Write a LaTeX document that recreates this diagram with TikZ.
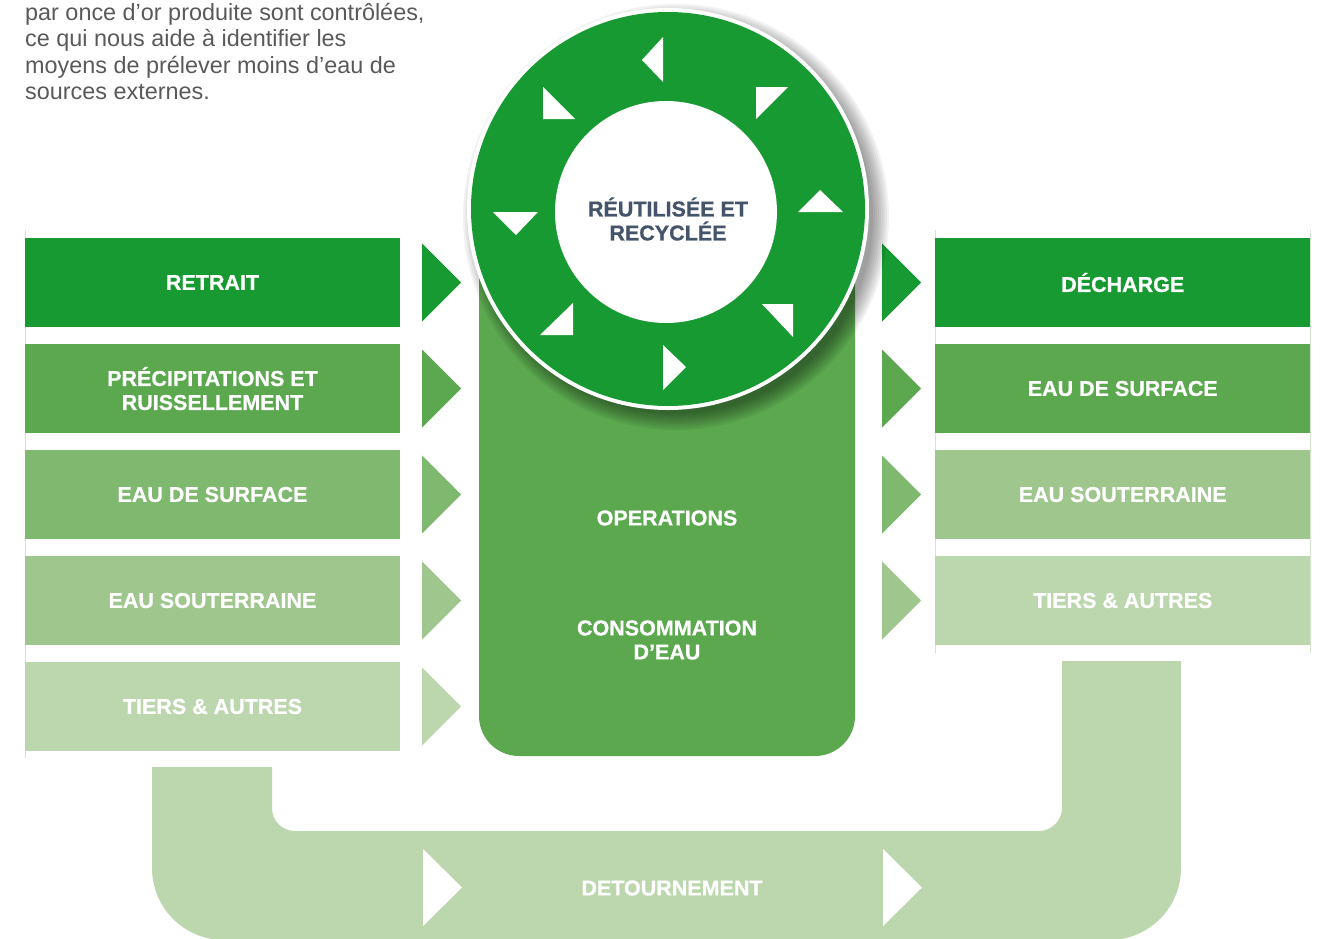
\documentclass[tikz,border=0pt]{standalone}
\usepackage{fontspec}
\setmainfont{Liberation Sans}
\newfontfamily\lblfont{Liberation Sans}[BoldFeatures={FakeBold=0.7}]
\usetikzlibrary{calc}
\definecolor{gA}{HTML}{179A31}
\definecolor{gB}{HTML}{5BA84F}
\definecolor{gC}{HTML}{7FB86F}
\definecolor{gD}{HTML}{9FC68C}
\definecolor{gE}{HTML}{BCD7AD}
\definecolor{slate}{HTML}{44546A}
\definecolor{paragray}{HTML}{595959}
\definecolor{hair}{HTML}{D3E6CB}
\begin{document}
\begin{tikzpicture}[x=1pt,y=-1pt,
  lbl/.style={text=white, font=\lblfont\bfseries\fontsize{21.5}{24}\selectfont, align=center, inner sep=0pt},
  rowbox/.style={lbl, minimum width=375, minimum height=89},
  para/.style={text=paragray, font=\fontsize{23.4}{26}\selectfont, inner sep=0pt, anchor=base west},
  hairline/.style={draw=hair, line width=0.8pt},
  ringtri/.style={fill=white}]
\useasboundingbox (0,0) rectangle (1326,938);
\clip (0,0) rectangle (1326,938);

% paragraph
\node[para] (p1) at (25,20.5) {par once d’or produite sont contrôlées,};
\node[para] (p2) at (25,46.8) {ce qui nous aide à identifier les};
\node[para] (p3) at (25,73.1) {moyens de prélever moins d’eau de};
\node[para] (p4) at (25,99.4) {sources externes.};

% hairlines
\draw[hairline] (25,230) -- (25,758);
\draw[hairline] (935,230) -- (935,653);
\draw[hairline] (1310.5,230) -- (1310.5,653);

% DETOURNEMENT U shape
\fill[gE] (152,767) -- (152,868) .. controls (152,907.8) and (184.2,940) .. (224,940)
  -- (1109,940) .. controls (1148.8,940) and (1181,907.8) .. (1181,868)
  -- (1181,661) -- (1062,661) -- (1062,808) .. controls (1062,820.7) and (1051.3,831) .. (1039,831)
  -- (295,831) .. controls (282.3,831) and (272,820.7) .. (272,808)
  -- (272,767) -- cycle;
\node[lbl] (detour) at (672,888) {DETOURNEMENT};
\fill[white] (423,849) -- (423,926) -- (462,887.5) -- cycle;
\fill[white] (883,849) -- (883,926) -- (922,887.5) -- cycle;

% central box
\fill[gB, rounded corners=40] (479,200) -- (479,756) -- (855,756) -- (855,200) -- cycle;
\node[lbl] (ops) at (667,518) {OPERATIONS};
\node[lbl] (conso) at (667,640) {CONSOMMATION\\D’EAU};

% left boxes
\node[rowbox, fill=gA] (L1) at (212.5,282.5) {RETRAIT};
\node[rowbox, fill=gB] (L2) at (212.5,388.5) {PRÉCIPITATIONS ET\\RUISSELLEMENT};
\node[rowbox, fill=gC] (L3) at (212.5,494.5) {EAU DE SURFACE};
\node[rowbox, fill=gD] (L4) at (212.5,600.5) {EAU SOUTERRAINE};
\node[rowbox, fill=gE] (L5) at (212.5,706.5) {TIERS \& AUTRES};
\fill[gA] ($(L1.east)+(22,-39)$) -- ++(0,78) -- ++(39,-39) -- cycle;
\fill[gB] ($(L2.east)+(22,-39)$) -- ++(0,78) -- ++(39,-39) -- cycle;
\fill[gC] ($(L3.east)+(22,-39)$) -- ++(0,78) -- ++(39,-39) -- cycle;
\fill[gD] ($(L4.east)+(22,-39)$) -- ++(0,78) -- ++(39,-39) -- cycle;
\fill[gE] ($(L5.east)+(22,-39)$) -- ++(0,78) -- ++(39,-39) -- cycle;

% right boxes
\node[rowbox, fill=gA] (R1) at (1122.75,282.5) {DÉCHARGE};
\node[rowbox, fill=gB] (R2) at (1122.75,388.5) {EAU DE SURFACE};
\node[rowbox, fill=gD] (R3) at (1122.75,494.5) {EAU SOUTERRAINE};
\node[rowbox, fill=gE] (R4) at (1122.75,600.5) {TIERS \& AUTRES};
\fill[gA] ($(R1.west)+(-53,-39)$) -- ++(0,78) -- ++(39,-39) -- cycle;
\fill[gB] ($(R2.west)+(-53,-39)$) -- ++(0,78) -- ++(39,-39) -- cycle;
\fill[gC] ($(R3.west)+(-53,-39)$) -- ++(0,78) -- ++(39,-39) -- cycle;
\fill[gD] ($(R4.west)+(-53,-39)$) -- ++(0,78) -- ++(39,-39) -- cycle;

% ring shadow
\foreach \r in {197,199,...,213} \fill[black, opacity=0.05] (676,217) circle (\r);
% ring
\fill[white] (668,209) circle (201);
\node[circle, fill=gA, minimum size=394, inner sep=0pt] (ring) at (668,209) {};
\node[circle, fill=white, minimum size=222, inner sep=0pt] (hub) at (666,212) {};
\node[lbl, text=slate] (reuse) at (668,219) {RÉUTILISÉE ET\\RECYCLÉE};

% ring triangles
\fill[ringtri] (663,37) -- (663,82) -- (642,60) -- cycle;
\fill[ringtri] (543,87) -- (543,119) -- (575,119) -- cycle;
\fill[ringtri] (756,87) -- (788,87) -- (756,119) -- cycle;
\fill[ringtri] (493,212) -- (538,212) -- (516,235) -- cycle;
\fill[ringtri] (573,303) -- (573,335) -- (540,335) -- cycle;
\fill[ringtri] (663,345) -- (663,390) -- (686,367) -- cycle;
\fill[ringtri] (762,304) -- (793,304) -- (793,337) -- cycle;
\fill[ringtri] (798,212) -- (843,212) -- (820,190) -- cycle;
\end{tikzpicture}
\end{document}
